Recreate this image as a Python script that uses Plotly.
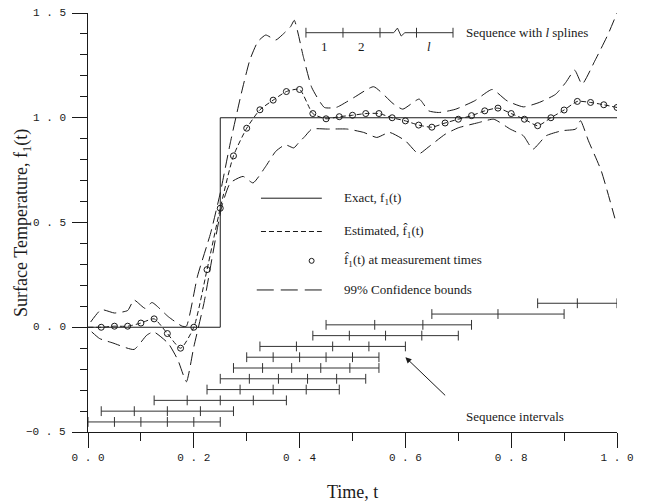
import plotly.graph_objects as go

# ---------------- data ----------------
# exact step function f1(t)
exact_t = [0.0, 0.25, 0.25, 1.0]
exact_f = [0.0, 0.0, 1.0, 1.0]

# estimate at measurement times
meas_t = [0.025, 0.05, 0.075, 0.1, 0.125, 0.15, 0.175, 0.2, 0.225, 0.25,
          0.275, 0.3, 0.325, 0.35, 0.375, 0.4, 0.425, 0.45, 0.475, 0.5,
          0.525, 0.55, 0.575, 0.6, 0.625, 0.65, 0.675, 0.7, 0.725, 0.75,
          0.775, 0.8, 0.825, 0.85, 0.875, 0.9, 0.925, 0.95, 0.975, 1.0]
meas_f = [0.0, 0.005, 0.005, 0.02, 0.04, -0.03, -0.10, 0.0, 0.275, 0.568,
          0.818, 0.95, 1.038, 1.084, 1.125, 1.135, 1.02, 0.995, 1.005, 1.012,
          1.02, 1.02, 1.0, 0.985, 0.965, 0.955, 0.975, 0.993, 1.01, 1.033,
          1.046, 1.02, 0.993, 0.962, 1.0, 1.037, 1.078, 1.073, 1.062, 1.049]

# estimated curve (starts at t = 0)
est_t = [0.0] + meas_t
est_f = [0.0] + meas_f

# 99% confidence bounds
upper_t = [0.005, 0.025, 0.05, 0.075, 0.087, 0.108, 0.121, 0.152, 0.178, 0.186,
           0.207, 0.232, 0.25, 0.269, 0.29, 0.306, 0.321, 0.336, 0.355, 0.367,
           0.383, 0.39, 0.407, 0.423, 0.447, 0.47, 0.503, 0.54, 0.577, 0.595,
           0.626, 0.644, 0.663, 0.694, 0.731, 0.764, 0.792, 0.823, 0.853, 0.884,
           0.903, 0.92, 0.934, 0.958, 0.983, 1.0]
upper_f = [0.025, 0.084, 0.068, 0.08, 0.13, 0.09, 0.118, 0.05, 0.005, 0.005,
           0.244, 0.451, 0.641, 0.88, 1.118, 1.276, 1.363, 1.395, 1.371, 1.395,
           1.435, 1.465, 1.292, 1.144, 1.049, 1.05, 1.097, 1.148, 1.067, 1.041,
           1.089, 1.033, 1.025, 1.04, 1.081, 1.135, 1.081, 1.052, 1.073, 1.112,
           1.168, 1.227, 1.16, 1.271, 1.398, 1.5]
lower_t = [0.007, 0.022, 0.047, 0.087, 0.111, 0.124, 0.152, 0.17, 0.186, 0.2,
           0.219, 0.253, 0.269, 0.293, 0.312, 0.336, 0.355, 0.373, 0.389, 0.398,
           0.41, 0.423, 0.453, 0.49, 0.521, 0.546, 0.57, 0.6, 0.625, 0.643,
           0.675, 0.7, 0.737, 0.767, 0.798, 0.823, 0.841, 0.866, 0.896, 0.922,
           0.931, 0.946, 0.97, 0.996]
lower_f = [-0.022, -0.054, -0.075, -0.106, -0.038, -0.022, -0.078, -0.157, -0.26, -0.094,
           0.113, 0.578, 0.689, 0.72, 0.689, 0.768, 0.84, 0.871, 0.856, 0.88,
           0.911, 0.946, 0.946, 0.946, 0.93, 0.906, 0.93, 0.89, 0.827, 0.859,
           0.921, 0.952, 0.976, 0.993, 0.946, 0.914, 0.85, 0.914, 0.938, 0.946,
           0.986, 0.89, 0.748, 0.52]

# sequence intervals: knot positions of each sequence (bottom to top)
seq_knots = [
    [0.0, 0.05, 0.1, 0.15, 0.2, 0.25],
    [0.025, 0.0875, 0.15, 0.2125, 0.275],
    [0.125, 0.1875, 0.25, 0.3125, 0.375],
    [0.225, 0.2875, 0.35, 0.4125, 0.475],
    [0.25, 0.305, 0.36, 0.415, 0.47, 0.525],
    [0.275, 0.33, 0.385, 0.44, 0.495, 0.55],
    [0.3, 0.35, 0.4, 0.45, 0.5, 0.55],
    [0.325, 0.394, 0.4625, 0.531, 0.6],
    [0.425, 0.494, 0.5625, 0.631, 0.7],
    [0.45, 0.542, 0.633, 0.725],
    [0.65, 0.775, 0.9],
    [0.85, 0.925, 1.0],
]

# schematic "sequence with l splines"
schem_knots = [0.412, 0.482, 0.552, 0.621, 0.69]
schem_labels = ["1", "2", "<i>l</i>"]

x_tickvals = [0.0, 0.2, 0.4, 0.6, 0.8, 1.0]
x_ticktext = ["0 . 0", "0 . 2", "0 . 4", "0 . 6", "0 . 8", "1 . 0"]
y_tickvals = [-0.5, 0.0, 0.5, 1.0, 1.5]
y_ticktext = ["\u22120 . 5", "0 . 0", "0 . 5", "1 . 0", "1 . 5"]

# ---------------- styling / layout constants ----------------
INK = "#1a1a1a"
SERIF = "Liberation Serif, Times New Roman, serif"
MONO = "Liberation Mono, Courier New, monospace"

fig = go.Figure()

# exact
fig.add_trace(go.Scatter(x=exact_t, y=exact_f, mode="lines",
                         line=dict(color=INK, width=1), showlegend=False))
# estimated
fig.add_trace(go.Scatter(x=est_t, y=est_f, mode="lines",
                         line=dict(color=INK, width=1, dash="5px,3px",
                                   shape="spline", smoothing=0.6),
                         showlegend=False))
# confidence bounds
for bt, bf in ((upper_t, upper_f), (lower_t, lower_f)):
    fig.add_trace(go.Scatter(x=bt, y=bf, mode="lines",
                             line=dict(color=INK, width=1, dash="13px,6px",
                                       shape="spline", smoothing=0.5),
                             showlegend=False))
# measurement markers
fig.add_trace(go.Scatter(x=meas_t, y=meas_f, mode="markers",
                         marker=dict(symbol="circle-open", size=6,
                                     color=INK, line=dict(width=1)),
                         showlegend=False))

# sequence intervals
seq_y0, seq_step = -0.452, 0.0515
sx, sy = [], []
for i, knots in enumerate(seq_knots):
    lvl = seq_y0 + seq_step * i
    sx += knots + [None]
    sy += [lvl] * len(knots) + [None]
fig.add_trace(go.Scatter(x=sx, y=sy, mode="lines+markers",
                         line=dict(color="#333", width=1),
                         marker=dict(symbol="line-ns", size=7,
                                     line=dict(color="#333", width=1)),
                         showlegend=False, connectgaps=False))

# schematic at top
schem_y = 1.406
fig.add_trace(go.Scatter(x=schem_knots, y=[schem_y] * len(schem_knots),
                         mode="markers",
                         marker=dict(symbol="line-ns", size=7,
                                     line=dict(color="#333", width=1)),
                         showlegend=False))
zig = [schem_knots[2], 0.578, 0.585, 0.592, 0.599, schem_knots[4]]
zig_y = [schem_y, schem_y, schem_y + 0.022, schem_y - 0.016, schem_y, schem_y]
fig.add_trace(go.Scatter(x=schem_knots[:3], y=[schem_y] * 3, mode="lines",
                         line=dict(color="#333", width=1), showlegend=False))
fig.add_trace(go.Scatter(x=zig, y=zig_y, mode="lines",
                         line=dict(color="#333", width=1), showlegend=False))

annotations = []
lab_x = [(schem_knots[0] + schem_knots[1]) / 2,
         (schem_knots[1] + schem_knots[2]) / 2,
         (schem_knots[3] + schem_knots[4]) / 2 - 0.01]
for lx, lt in zip(lab_x, schem_labels):
    annotations.append(dict(x=lx, y=1.338, text=lt, showarrow=False,
                            xanchor="center", yanchor="middle",
                            font=dict(family=SERIF, size=13, color=INK)))
annotations.append(dict(x=0.711, y=schem_y, text="Sequence with <i>l</i> splines",
                        xanchor="left", yanchor="middle", showarrow=False,
                        font=dict(family=SERIF, size=13, color=INK)))

# custom legend
leg_x0, leg_x1, leg_tx = 0.327, 0.442, 0.4805
rows = [0.616, 0.457, 0.317, 0.178]
fig.add_trace(go.Scatter(x=[leg_x0, leg_x1], y=[rows[0]] * 2, mode="lines",
                         line=dict(color=INK, width=1), showlegend=False))
fig.add_trace(go.Scatter(x=[leg_x0, leg_x1], y=[rows[1]] * 2, mode="lines",
                         line=dict(color=INK, width=1, dash="5px,3px"),
                         showlegend=False))
fig.add_trace(go.Scatter(x=[0.4227], y=[rows[2]], mode="markers",
                         marker=dict(symbol="circle-open", size=5, color=INK,
                                     line=dict(width=1)), showlegend=False))
fig.add_trace(go.Scatter(x=[0.319, leg_x1], y=[rows[3]] * 2, mode="lines",
                         line=dict(color=INK, width=1, dash="17px,7px"),
                         showlegend=False))
leg_texts = ["Exact, f<sub>1</sub>(t)",
             "Estimated, f\u0302<sub>1</sub>(t)",
             "f\u0302<sub>1</sub>(t) at measurement times",
             "99% Confidence bounds"]
for ry, tx in zip(rows, leg_texts):
    annotations.append(dict(x=leg_tx, y=ry, text=tx, xanchor="left",
                            yanchor="middle", showarrow=False,
                            font=dict(family=SERIF, size=13, color=INK)))

# sequence intervals label + arrow
annotations.append(dict(x=0.711, y=-0.427, text="Sequence intervals",
                        xanchor="left", yanchor="middle", showarrow=False,
                        font=dict(family=SERIF, size=13, color=INK)))
annotations.append(dict(x=0.6, y=-0.143, ax=0.678, ay=-0.332, axref="x", ayref="y",
                        text="", showarrow=True, arrowhead=2, arrowsize=1.2,
                        arrowwidth=1, arrowcolor=INK))

# y tick labels (placed as text next to the axis ticks)
for tv, tt in zip(y_tickvals, y_ticktext):
    annotations.append(dict(x=-0.037, xref="paper", y=tv, yref="y", text=tt,
                            xanchor="right", yanchor="middle", showarrow=False,
                            font=dict(family=MONO, size=11, color=INK)))

# axis titles
annotations.append(dict(x=-0.124, y=0.5, xref="paper", yref="paper",
                        xanchor="center", yanchor="middle",
                        text="Surface Temperature, f<sub>1</sub>(t)", textangle=-90,
                        showarrow=False, font=dict(family=SERIF, size=18, color=INK)))
annotations.append(dict(x=0.5, y=-0.143, xref="paper", yref="paper",
                        xanchor="center", yanchor="middle",
                        text="Time, t", showarrow=False,
                        font=dict(family=SERIF, size=18, color=INK)))

fig.update_layout(
    width=646, height=503,
    margin=dict(l=88, r=17, t=13, b=71),
    paper_bgcolor="white", plot_bgcolor="white",
    showlegend=False,
    annotations=annotations,
    xaxis=dict(range=[0, 1.0], showgrid=False, zeroline=False,
               showline=True, linecolor=INK, linewidth=1,
               ticks="outside", ticklen=15, tickcolor=INK, tickwidth=1,
               tickvals=x_tickvals, ticktext=x_ticktext,
               tickfont=dict(family=MONO, size=11, color=INK),
               minor=dict(ticks="outside", ticklen=8, tickcolor=INK,
                          tickvals=[0.1, 0.3, 0.5, 0.7, 0.9])),
    yaxis=dict(range=[-0.5, 1.5], showgrid=False, zeroline=False,
               showline=True, linecolor=INK, linewidth=1,
               ticks="outside", ticklen=15, tickcolor=INK, tickwidth=1,
               tickvals=y_tickvals, showticklabels=False,
               minor=dict(ticks="outside", ticklen=7, tickcolor=INK,
                          dtick=0.1, tick0=0)),
)

fig.write_html("out.html")
